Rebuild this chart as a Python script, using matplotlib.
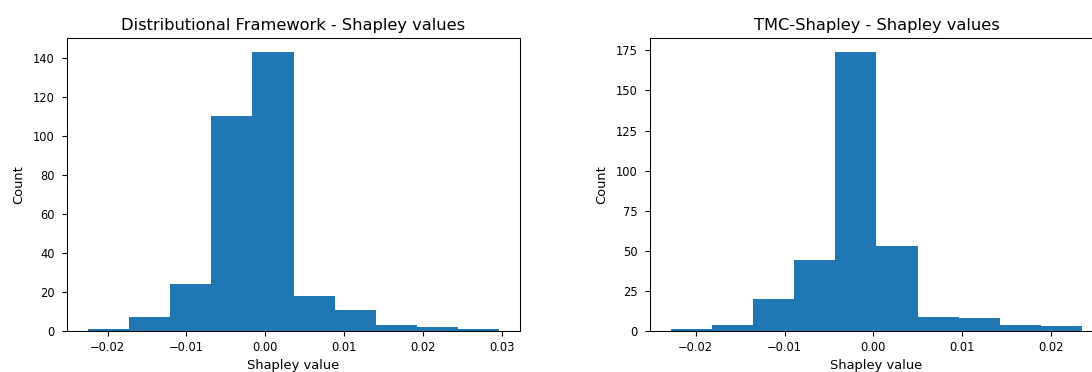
import numpy as np
from matplotlib import pyplot as plt

# histogram counts (10 equal bins each)
dist_counts = [1, 7, 24, 110, 143, 18, 11, 3, 2, 1]
dist_range = (-0.02255, 0.02973)

tmc_counts = [1, 4, 20, 44, 174, 53, 9, 8, 4, 3]
tmc_range = (-0.02283, 0.02351)

titles = ["Distributional Framework - Shapley values", "TMC-Shapley - Shapley values"]

DPI = 100
plt.rcParams.update({
    'xtick.labelsize': 8.3,
    'ytick.labelsize': 8.3,
    'axes.labelsize': 9.4,
    'axes.titlesize': 11.7,
    'xtick.major.size': 3.4,
    'ytick.major.size': 3.4,
    'ytick.major.pad': 5.5,
    'axes.linewidth': 0.75,
})
fig = plt.figure(figsize=(1092 / DPI, 372 / DPI), dpi=DPI)

# axes boxes in figure fractions; the right one runs past the edge like the original crop
ax1 = fig.add_axes([0.0614, 0.1102, 0.4148, 0.7876])
ax2 = fig.add_axes([0.5952, 0.1102, 0.4148, 0.7876])

for ax, counts, rng, title in [(ax1, dist_counts, dist_range, titles[0]),
                               (ax2, tmc_counts, tmc_range, titles[1])]:
    edges = np.linspace(rng[0], rng[1], len(counts) + 1)
    ax.hist(edges[:-1], bins=edges, weights=counts)
    ax.set_title(title)
    ax.set_xlabel('Shapley value')
    ax.set_ylabel('Count', labelpad=5.5)

ax1.set_yticks([0, 20, 40, 60, 80, 100, 120, 140])
ax2.set_yticks([0, 25, 50, 75, 100, 125, 150, 175])

fig.savefig('out.png', dpi=DPI)
